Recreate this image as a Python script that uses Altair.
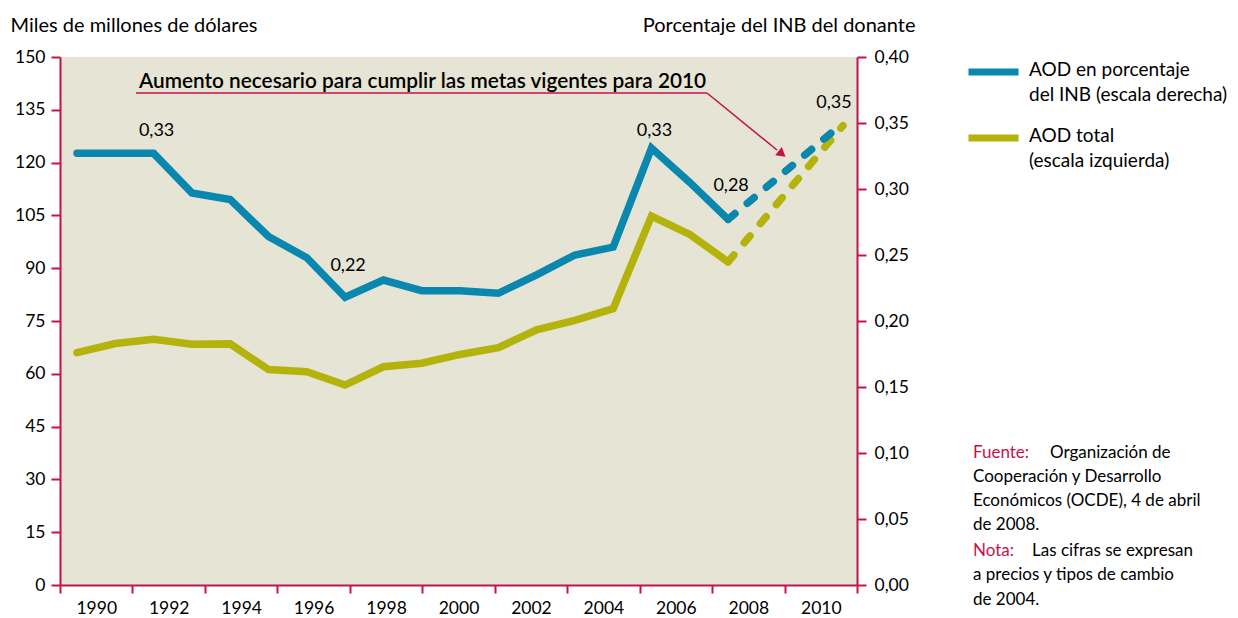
import altair as alt
import pandas as pd

# ---------------- data ----------------
years = [1990, 1991, 1992, 1993, 1994, 1995, 1996, 1997, 1998,
         1999, 2000, 2001, 2002, 2003, 2004, 2005, 2006, 2007]
aod_pct = [0.327, 0.327, 0.327, 0.297, 0.292, 0.264, 0.248, 0.218, 0.231,
           0.223, 0.223, 0.221, 0.235, 0.250, 0.256, 0.331, 0.305, 0.277]
aod_total = [66.0, 68.6, 69.8, 68.4, 68.5, 61.2, 60.6, 56.8, 62.0,
             63.0, 65.5, 67.4, 72.5, 75.2, 78.5, 104.8, 99.6, 91.8]
proj_years = [2007, 2010]
proj_pct = [0.277, 0.35]
proj_total = [91.8, 130.5]

series = ["AOD en porcentaje\ndel INB (escala derecha)", "AOD total\n(escala izquierda)"]

label_years = [1992, 1997, 2005, 2007, 2010]
label_vals = [0.33, 0.22, 0.33, 0.28, 0.35]

x_tick_labels = ["1990", "1992", "1994", "1996", "1998", "2000",
                 "2002", "2004", "2006", "2008", "2010"]
left_ticks = [0, 15, 30, 45, 60, 75, 90, 105, 120, 135, 150]
right_ticks = [0.0, 0.05, 0.10, 0.15, 0.20, 0.25, 0.30, 0.35, 0.40]

left_title = "Miles de millones de dólares"
right_title = "Porcentaje del INB del donante"
annotation = "Aumento necesario para cumplir las metas vigentes para 2010"
fuente_label = "Fuente:"
nota_label = "Nota:"
fuente_lines = ["Organización de", "Cooperación y Desarrollo",
                "Económicos (OCDE), 4 de abril", "de 2008."]
nota_lines = ["Las cifras se expresan", "a precios y tipos de cambio", "de 2004."]

# ---------------- style ----------------
BLUE = "#0A87AE"
YELLOW = "#B3B30C"
CRIMSON = "#C4124B"
BG = "#E6E4D4"
FONT = "Lato"
W, H = 797, 528

df_pct = pd.DataFrame({"year": years, "value": aod_pct, "serie": series[0]})
df_tot = pd.DataFrame({"year": years, "value": aod_total, "serie": series[1]})
df_pct_p = pd.DataFrame({"year": proj_years, "value": proj_pct, "serie": series[0]})
df_tot_p = pd.DataFrame({"year": proj_years, "value": proj_total, "serie": series[1]})
df_lab = pd.DataFrame({"year": label_years, "value": label_vals})

xs = alt.Scale(domain=[1989.556, 2010.366], nice=False, zero=False)
X = alt.X("year:Q", scale=xs, axis=None)

legend = alt.Legend(
    title=None, orient="none", legendX=905, legendY=-16, direction="vertical",
    symbolType="M-1,0.1L1,0.1", symbolSize=2500, symbolStrokeWidth=7,
    labelFontSize=19, labelFont=FONT, labelColor="black", labelOffset=7,
    labelLimit=500, rowPadding=2, labelExpr="split(datum.label, '\\n')",
)
COLOR = alt.Color("serie:N", scale=alt.Scale(domain=series, range=[BLUE, YELLOW]),
                  legend=legend)

axis_common = dict(grid=False, domainColor=CRIMSON, domainWidth=2, tickColor=CRIMSON,
                   tickWidth=2, tickSize=9, labelFontSize=17.5, labelFont=FONT,
                   labelColor="black", labelOverlap=False, titleAngle=0,
                   titleFontSize=20, titleFont=FONT, titleFontWeight="normal",
                   titleColor="black", titleBaseline="middle", titleY=-32)

left_axis = alt.Axis(orient="left", values=left_ticks, title=left_title,
                     titleX=-50, titleAlign="left", labelPadding=6, **axis_common)
right_axis = alt.Axis(orient="right", values=right_ticks, title=right_title,
                      titleX=58, titleAlign="right", labelPadding=8,
                      labelExpr="replace(format(datum.value, '.2f'), '.', ',')",
                      **axis_common)

YL = alt.Y("value:Q", scale=alt.Scale(domain=[0, 150], nice=False, zero=True), axis=left_axis)
YR = alt.Y("value:Q", scale=alt.Scale(domain=[0, 0.40], nice=False, zero=True), axis=right_axis)

line_kw = dict(strokeWidth=7.5, strokeCap="round", strokeJoin="miter")
dash_kw = dict(strokeWidth=7.5, strokeCap="round", strokeDash=[9, 16])

left_group = alt.layer(
    alt.Chart(df_tot).mark_line(**line_kw).encode(x=X, y=YL, color=COLOR),
    alt.Chart(df_tot_p).mark_line(**dash_kw).encode(x=X, y=YL, color=COLOR),
)


def labels(idx, dx, dy):
    d = df_lab.iloc[idx]
    return alt.Chart(d).transform_calculate(
        txt="replace(format(datum.value, '.2f'), '.', ',')"
    ).mark_text(fontSize=18, font=FONT, color="black", dx=dx, dy=dy).encode(
        x=X, y=YR, text="txt:N")


right_group = alt.layer(
    alt.Chart(df_pct).mark_line(**line_kw).encode(x=X, y=YR, color=COLOR),
    alt.Chart(df_pct_p).mark_line(**dash_kw).encode(x=X, y=YR, color=COLOR),
    labels([0, 2], 3, -18),
    labels([1, 3], 3, -29),
    labels([4], -9, -20),
)

band_layer = alt.Chart(pd.DataFrame({"lab": x_tick_labels})).mark_rect(opacity=0).encode(
    x=alt.X("lab:N", sort=None,
            scale=alt.Scale(paddingInner=0, paddingOuter=0),
            axis=alt.Axis(orient="bottom", title=None, grid=False, domainColor=CRIMSON,
                          domainWidth=2, tickColor=CRIMSON, tickWidth=2, tickSize=8,
                          tickBand="extent", labelAngle=0, labelFontSize=17.5,
                          labelFont=FONT, labelColor="black", labelPadding=6))
)

one = alt.Data(values=[{}])


def text_at(s, x, y, color="black", size=17, weight="normal", baseline="middle"):
    return alt.Chart(one).mark_text(text=s, align="left", baseline=baseline,
                                    fontSize=size, fontWeight=weight, font=FONT,
                                    color=color).encode(x=alt.value(x), y=alt.value(y))


annot = [
    text_at(annotation, 79, 31, size=20.8, weight=600, baseline="alphabetic"),
    alt.Chart(one).mark_rule(color=CRIMSON, strokeWidth=1.6).encode(
        x=alt.value(76), x2=alt.value(647), y=alt.value(36)),
    alt.Chart(one).mark_rule(color=CRIMSON, strokeWidth=1.6).encode(
        x=alt.value(647), x2=alt.value(717), y=alt.value(36), y2=alt.value(93)),
    alt.Chart(one).mark_point(shape="triangle-right", angle=39, filled=True, size=110,
                              color=CRIMSON, opacity=1).encode(
        x=alt.value(722), y=alt.value(97)),
]

fx = 913
footer = [
    text_at(fuente_label, fx, 396, color=CRIMSON),
    text_at(fuente_lines[0], fx + 77, 396),
    text_at(fuente_lines[1], fx, 420),
    text_at(fuente_lines[2], fx, 444),
    text_at(fuente_lines[3], fx, 468),
    text_at(nota_label, fx, 494, color=CRIMSON),
    text_at(nota_lines[0], fx + 59, 494),
    text_at(nota_lines[1], fx, 518),
    text_at(nota_lines[2], fx, 543),
]

chart = alt.layer(
    band_layer, left_group, right_group, *annot, *footer
).resolve_scale(
    x="independent", y="independent"
).properties(
    width=W, height=H,
    padding={"left": 52, "top": 49, "right": 373, "bottom": 33},
    autosize=alt.AutoSizeParams(type="none"),
).configure(
    font=FONT, style={"guide-label": {"lineHeight": 25}}
).configure_view(
    fill=BG, stroke=None
)

chart.save("out.html", embed_options={"renderer": "svg", "actions": False})
